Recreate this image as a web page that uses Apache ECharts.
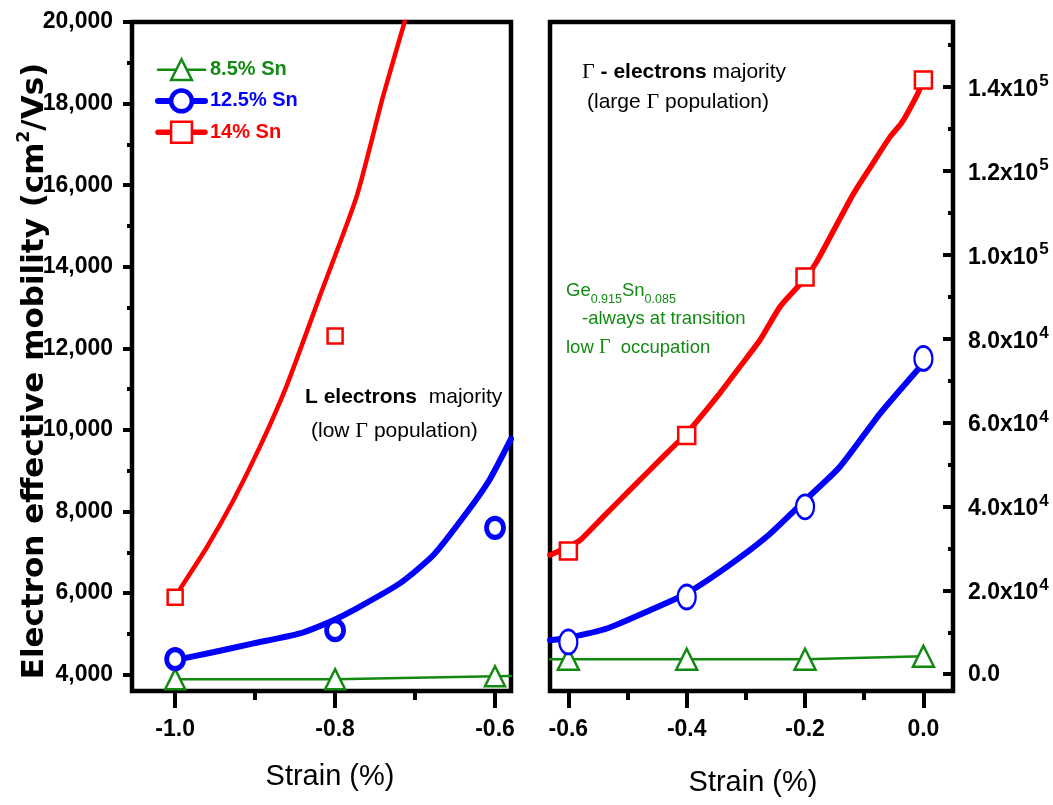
<!DOCTYPE html>
<html>
<head>
<meta charset="utf-8">
<script src="https://cdn.jsdelivr.net/npm/echarts@6/dist/echarts.min.js"></script>
<style>
  html, body { margin: 0; padding: 0; background: #fff; }
  #chart { width: 1053px; height: 805px; }
</style>
</head>
<body>
<div id="chart"></div>
<script>
// Electron effective mobility of GeSn alloys versus strain, two strain ranges.
const seriesNames = ['8.5% Sn', '12.5% Sn', '14% Sn'];

// ---- Left panel: strain -1.0 ... -0.6 %, mobility in cm^2/Vs ----
const leftXTicks = [-1.0, -0.8, -0.6];
const leftXMinor = [-0.9, -0.7];
const leftYTicks = [4000, 6000, 8000, 10000, 12000, 14000, 16000, 18000, 20000];
const leftYMinor = [5000, 7000, 9000, 11000, 13000, 15000, 17000, 19000];

const leftStrain = [-1.0, -0.8, -0.6];
const leftGreen = [3890, 3890, 3960];
const leftBlue = [4380, 5090, 7600];
const leftRedStrain = [-1.0, -0.8];
const leftRed = [5900, 12300];

// fitted trend lines [strain, mobility]
const leftGreenFit = [[-1.0, 3890], [-0.8, 3890], [-0.6, 3960], [-0.58, 3965]];
const leftBlueFit = [[-1.0, 4360], [-0.960, 4520], [-0.902, 4766], [-0.844, 5011], [-0.802, 5337],
  [-0.777, 5583], [-0.719, 6238], [-0.677, 6933], [-0.636, 7956], [-0.607, 8773], [-0.58, 9780]];
const leftRedFit = [[-1.0, 5900], [-0.992, 6155], [-0.960, 7136], [-0.927, 8283], [-0.894, 9590],
  [-0.861, 11063], [-0.819, 13283], [-0.773, 15726], [-0.740, 18180], [-0.713, 20012], [-0.705, 20600]];

// ---- Right panel: strain -0.6 ... 0.0 % ----
const rightXTicks = [-0.6, -0.4, -0.2, 0.0];
const rightXMinor = [-0.5, -0.3, -0.1];
const rightYTicks = [0, 20000, 40000, 60000, 80000, 100000, 120000, 140000];
const rightYMinor = [10000, 30000, 50000, 70000, 90000, 110000, 130000, 150000];

const rightStrain = [-0.6, -0.4, -0.2, 0.0];
const rightGreen = [3580, 3580, 3580, 4300];
const rightBlue = [7700, 18400, 39900, 75300];
const rightRed = [29400, 56900, 94700, 141700];

const rightGreenFit = [[-0.631, 3580], [-0.6, 3580], [-0.4, 3580], [-0.2, 3580], [0.0, 4300]];
const rightBlueFit = [[-0.631, 8100], [-0.6, 8700], [-0.535, 10900], [-0.462, 15270], [-0.400, 19300],
  [-0.332, 25600], [-0.265, 32770], [-0.200, 41500], [-0.141, 49480], [-0.073, 62200], [0.0, 74150]];
const rightRedFit = [[-0.631, 28400], [-0.6, 30400], [-0.580, 31980], [-0.541, 37540], [-0.496, 43910],
  [-0.434, 52670], [-0.400, 57450], [-0.344, 66990], [-0.310, 73340], [-0.276, 79710], [-0.242, 87670],
  [-0.200, 94300], [-0.180, 98400], [-0.124, 113100], [-0.107, 117100], [-0.085, 121900],
  [-0.056, 128200], [-0.037, 131400], [-0.009, 138600], [0.0, 141700]];

const GREEN = '#128a12';
const BLUE = '#0000ff';
const RED = '#ff0000';
const SANS = 'Liberation Sans';

const zip = (xs, ys) => xs.map((x, i) => [x, ys[i]]);

function xAxisDef(gridIndex, min, max, ticks, len, withLabels, name, nameGap, namePad) {
  const ax = {
    type: 'value', gridIndex, min, max, position: 'bottom',
    axisLine: { show: false, onZero: false },
    splitLine: { show: false },
    axisTick: { show: true, customValues: ticks, length: len, inside: false,
      lineStyle: { color: '#000', width: 4 } },
    axisLabel: withLabels ? {
      customValues: ticks, margin: 27,
      formatter: v => v.toFixed(1),
      fontFamily: SANS, fontWeight: 'bold', fontSize: 23, color: '#000'
    } : { show: false }
  };
  if (name) {
    ax.name = name;
    ax.nameLocation = 'middle';
    ax.nameGap = nameGap;
    ax.nameTextStyle = { fontFamily: SANS, fontSize: 29, color: '#000', padding: namePad };
  }
  return ax;
}

function yAxisDef(gridIndex, position, min, max, ticks, len, inside, label) {
  return {
    type: 'value', gridIndex, position, min, max,
    axisLine: { show: false, onZero: false },
    splitLine: { show: false },
    axisTick: { show: true, customValues: ticks, length: len, inside,
      lineStyle: { color: '#000', width: 4 } },
    axisLabel: label || { show: false }
  };
}

// 1.4x10^5 style labels for the right-hand mobility axis
function sciLabel(v) {
  if (v === 0) return '{z|0.0}';
  const e = Math.floor(Math.log10(v) + 1e-9);
  const m = (v / Math.pow(10, e)).toFixed(1);
  return '{b|' + m + 'x10}{s|' + e + '}';
}

function fit(name, xi, yi, data, color, width, symbol, smooth) {
  return {
    type: 'line', name, xAxisIndex: xi, yAxisIndex: yi, data,
    smooth, showSymbol: false, symbol, silent: true, z: 3,
    lineStyle: { color, width, cap: 'round', join: 'round' },
    itemStyle: { color }
  };
}

function marks(name, xi, yi, xs, ys, color, symbol, size, bw) {
  return {
    type: 'scatter', name, xAxisIndex: xi, yAxisIndex: yi, data: zip(xs, ys),
    symbol, symbolSize: size, silent: true, z: 5,
    itemStyle: { color: '#fff', borderColor: color, borderWidth: bw, opacity: 1 }
  };
}

const legendItem = (name, color, lw, bw) => ({
  name,
  textStyle: { color, fontFamily: SANS, fontWeight: 'bold', fontSize: 20 },
  lineStyle: { color, width: lw },
  itemStyle: { color: '#fff', borderColor: color, borderWidth: bw }
});

const txt = (family, size, weight, color) => ({ fontFamily: family, fontSize: size, fontWeight: weight, fill: color, color });

const option = {
  backgroundColor: '#fff',
  animation: false,
  grid: [
    { left: 132, top: 22, width: 379, height: 669, show: true, borderColor: '#000', borderWidth: 4.5, backgroundColor: 'transparent' },
    { left: 550, top: 22, width: 403, height: 669, show: true, borderColor: '#000', borderWidth: 4.5, backgroundColor: 'transparent' }
  ],
  xAxis: [
    xAxisDef(0, -1.054, -0.58, leftXTicks, 17, true, 'Strain (%)', 71, [0, 0, 0, 17]),
    xAxisDef(0, -1.054, -0.58, leftXMinor, 9, false),
    xAxisDef(1, -0.631, 0.05, rightXTicks, 17, true, 'Strain (%)', 77, [0, 0, 0, 3]),
    xAxisDef(1, -0.631, 0.05, rightXMinor, 9, false)
  ],
  yAxis: [
    yAxisDef(0, 'left', 3600, 20000, leftYTicks, 9, false, {
      customValues: leftYTicks, margin: 19,
      formatter: v => v.toLocaleString('en-US'),
      fontFamily: SANS, fontWeight: 'bold', fontSize: 23, color: '#000'
    }),
    yAxisDef(0, 'left', 3600, 20000, leftYMinor, 5, false),
    yAxisDef(1, 'right', -4000, 155500, rightYTicks, 10, true, {
      customValues: rightYTicks, margin: 15,
      formatter: sciLabel,
      rich: {
        z: { fontFamily: SANS, fontWeight: 'bold', fontSize: 23, color: '#000' },
        b: { fontFamily: SANS, fontWeight: 'bold', fontSize: 23, color: '#000', verticalAlign: 'bottom', padding: [5, 0, 0, 0] },
        s: { fontFamily: SANS, fontWeight: 'bold', fontSize: 17, color: '#000', verticalAlign: 'top', padding: [0, 0, 0, 1] }
      }
    }),
    yAxisDef(1, 'right', -4000, 155500, rightYMinor, 5, true)
  ],
  legend: {
    orient: 'vertical', left: 155, top: 58, padding: 0,
    itemWidth: 47, itemHeight: 26, itemGap: 7, selectedMode: false,
    data: [
      legendItem(seriesNames[0], GREEN, 2.5, 2.5),
      legendItem(seriesNames[1], BLUE, 6, 4.5),
      legendItem(seriesNames[2], RED, 5.5, 2.5)
    ]
  },
  series: [
    // trend lines (first series of each name also defines the legend glyph)
    fit(seriesNames[0], 0, 0, leftGreenFit, GREEN, 2.5, 'triangle', false),
    fit(seriesNames[1], 0, 0, leftBlueFit, BLUE, 6, 'circle', 0.2),
    fit(seriesNames[2], 0, 0, leftRedFit, RED, 4.5, 'rect', 0.2),
    fit(seriesNames[0], 2, 2, rightGreenFit, GREEN, 2.5, 'triangle', false),
    fit(seriesNames[1], 2, 2, rightBlueFit, BLUE, 6, 'circle', 0.2),
    fit(seriesNames[2], 2, 2, rightRedFit, RED, 5.5, 'rect', 0.2),
    // measured points
    marks(seriesNames[0], 0, 0, leftStrain, leftGreen, GREEN, 'triangle', [20, 20], 2.5),
    marks(seriesNames[1], 0, 0, leftStrain, leftBlue, BLUE, 'circle', [17, 19], 5),
    marks(seriesNames[2], 0, 0, leftRedStrain, leftRed, RED, 'rect', [15, 15], 2.5),
    marks(seriesNames[0], 2, 2, rightStrain, rightGreen, GREEN, 'triangle', [21, 21], 2.5),
    marks(seriesNames[1], 2, 2, rightStrain, rightBlue, BLUE, 'circle', [18, 24], 2.5),
    marks(seriesNames[2], 2, 2, rightStrain, rightRed, RED, 'rect', [17, 17], 2.5)
  ],
  graphic: [
    {
      type: 'text', x: 33, y: 371, rotation: Math.PI / 2, silent: true,
      style: {
        text: '{t|Electron effective mobility (cm}{s|2}{t|/Vs)}',
        align: 'center', verticalAlign: 'middle',
        rich: {
          t: Object.assign(txt('DejaVu Sans', 31, 'bold', '#000'), { lineHeight: 34, verticalAlign: 'bottom' }),
          s: Object.assign(txt('DejaVu Sans', 17, 'bold', '#000'), { lineHeight: 17, verticalAlign: 'top' })
        }
      }
    },
    {
      type: 'text', x: 305, y: 397, silent: true,
      style: {
        text: '{b|L electrons}{r|  majority}', align: 'left', verticalAlign: 'middle',
        rich: { b: txt(SANS, 21, 'bold', '#000'), r: txt(SANS, 21, 'normal', '#000') }
      }
    },
    {
      type: 'text', x: 311, y: 431, silent: true,
      style: {
        text: '{r|(low }{g|Γ}{r| population)}', align: 'left', verticalAlign: 'middle',
        rich: { r: txt(SANS, 21, 'normal', '#000'), g: txt('Liberation Serif', 22, 'normal', '#000') }
      }
    },
    {
      type: 'text', x: 582, y: 72, silent: true,
      style: {
        text: '{g|Γ}{b| - electrons}{r| majority}', align: 'left', verticalAlign: 'middle',
        rich: { g: txt('Liberation Serif', 22, 'normal', '#000'), b: txt(SANS, 21, 'bold', '#000'), r: txt(SANS, 21, 'normal', '#000') }
      }
    },
    {
      type: 'text', x: 587, y: 102, silent: true,
      style: {
        text: '{r|(large }{g|Γ}{r| population)}', align: 'left', verticalAlign: 'middle',
        rich: { r: txt(SANS, 21, 'normal', '#000'), g: txt('Liberation Serif', 22, 'normal', '#000') }
      }
    },
    {
      type: 'text', x: 566, y: 291, silent: true,
      style: {
        text: '{m|Ge}{d|0.915}{m|Sn}{d|0.085}', align: 'left', verticalAlign: 'middle',
        rich: {
          m: Object.assign(txt(SANS, 18.5, 'normal', GREEN), { lineHeight: 20, verticalAlign: 'top' }),
          d: Object.assign(txt(SANS, 12.5, 'normal', GREEN), { lineHeight: 14, verticalAlign: 'top', padding: [12, 0, 0, 0] })
        }
      }
    },
    {
      type: 'text', x: 582, y: 319, silent: true,
      style: { text: '-always at transition', align: 'left', verticalAlign: 'middle', fontFamily: SANS, fontSize: 18.5, fill: GREEN }
    },
    {
      type: 'text', x: 566, y: 348, silent: true,
      style: {
        text: '{r|low }{g|Γ}{r|  occupation}', align: 'left', verticalAlign: 'middle',
        rich: { r: txt(SANS, 18.5, 'normal', GREEN), g: txt('Liberation Serif', 20, 'normal', GREEN) }
      }
    }
  ]
};

const chart = echarts.init(document.getElementById('chart'), null, { renderer: 'canvas' });
chart.setOption(option);
</script>
</body>
</html>
